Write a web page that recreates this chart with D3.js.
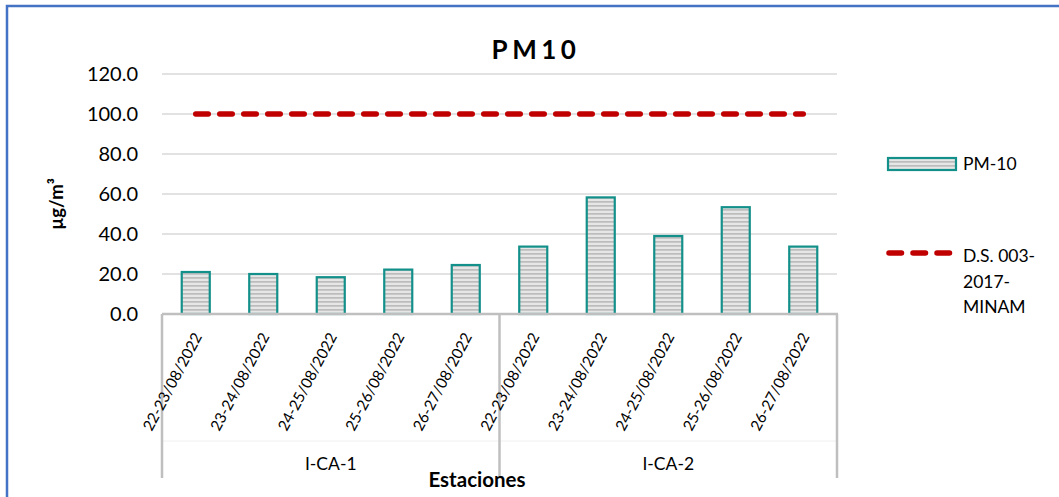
<!DOCTYPE html>
<html>
<head>
<meta charset="utf-8">
<script src="https://cdn.jsdelivr.net/npm/d3@7"></script>
<style>
  html, body { margin: 0; padding: 0; background: #fff; }
  svg { display: block; font-family: Lato, "Open Sans", sans-serif; }
</style>
</head>
<body>
<svg id="chart" width="1059" height="497"></svg>
<script>
// Stations (outer category level) and sampling periods (inner level)
const stations = ["I-CA-1", "I-CA-2"];
const periods = ["22-23/08/2022", "23-24/08/2022", "24-25/08/2022", "25-26/08/2022", "26-27/08/2022"];
// PM10 concentration per station/period, µg/m³
const pm10 = [21.0, 20.0, 18.4, 22.2, 24.5, 33.7, 58.3, 39.0, 53.4, 33.7];
// Air quality standard D.S. 003-2017-MINAM, µg/m³
const standardValue = 100;
const yTicks = [0, 20, 40, 60, 80, 100, 120];
const seriesName = "PM-10";
const standardLabel = ["D.S. 003-", "2017-", "MINAM"];

const categories = [];
stations.forEach(s => periods.forEach(p => categories.push({ station: s, period: p })));
const rows = categories.map((c, i) => ({ ...c, key: c.station + "|" + c.period, value: pm10[i] }));

const svg = d3.select("#chart");

const plot = { left: 162, right: 837, top: 74, bottom: 314 };

const x = d3.scaleBand().domain(rows.map(d => d.key)).range([plot.left, plot.right]);
const xBar = d3.scaleBand().domain(rows.map(d => d.key)).range([plot.left, plot.right])
  .paddingInner(0.585).paddingOuter(0.2925);
const y = d3.scaleLinear().domain([0, 120]).range([plot.bottom, plot.top]);

// Striped fill for the bars
const defs = svg.append("defs");
const pat = defs.append("pattern").attr("id", "stripes")
  .attr("patternUnits", "userSpaceOnUse").attr("width", 8).attr("height", 4);
pat.append("rect").attr("width", 8).attr("height", 4).attr("fill", "#e6e6e6");
pat.append("rect").attr("width", 8).attr("height", 1.7).attr("y", 1).attr("fill", "#bcbcbc");

// Outer frame
svg.append("rect").attr("x", 7).attr("y", 6).attr("width", 1100).attr("height", 600)
  .attr("fill", "none").attr("stroke", "#4472C4").attr("stroke-width", 2.5);

// Title
svg.append("text").attr("x", 536).attr("y", 59).attr("text-anchor", "middle")
  .attr("font-size", 26).attr("font-weight", 700).attr("letter-spacing", 4.5)
  .attr("fill", "#000").text("PM10");

// Gridlines
svg.append("g").selectAll("line").data(yTicks.filter(t => t > 0)).join("line")
  .attr("x1", plot.left).attr("x2", plot.right)
  .attr("y1", d => y(d)).attr("y2", d => y(d))
  .attr("stroke", "#d9d9d9").attr("stroke-width", 1.5);

// Y axis tick labels
const yAxis = d3.axisLeft(y).tickValues(yTicks).tickFormat(d3.format(".1f")).tickSize(0).tickPadding(0);
const gy = svg.append("g").attr("transform", `translate(${plot.left - 24},0)`).call(yAxis);
gy.select(".domain").remove();
gy.selectAll("text").attr("font-size", 20).attr("fill", "#000").attr("font-family", "Lato, sans-serif");

// Y axis title
svg.append("text").attr("transform", `translate(63,${(plot.top + plot.bottom) / 2 + 10}) rotate(-90)`)
  .attr("text-anchor", "middle").attr("font-size", 18.5).attr("font-weight", 700).text("µg/m³");

// Bars
svg.append("g").selectAll("rect").data(rows).join("rect")
  .attr("x", d => xBar(d.key)).attr("width", xBar.bandwidth())
  .attr("y", d => y(d.value)).attr("height", d => y(0) - y(d.value))
  .attr("fill", "url(#stripes)").attr("stroke", "#13908a").attr("stroke-width", 2.2);

// Standard line
const line = d3.line().x(d => x(d.key) + x.bandwidth() / 2).y(() => y(standardValue));
svg.append("path").datum(rows).attr("d", line)
  .attr("fill", "none").attr("stroke", "#C00000").attr("stroke-width", 5.5)
  .attr("stroke-linecap", "round").attr("stroke-dasharray", "12.5 11.5");

// Category axis: baseline and group separators
const axisColor = "#bfbfbf";
const axisBottom = 478;
svg.append("line").attr("x1", plot.left).attr("x2", plot.right + 1).attr("y1", y(0)).attr("y2", y(0))
  .attr("stroke", axisColor).attr("stroke-width", 2.5);
svg.append("line").attr("x1", plot.left).attr("x2", plot.right).attr("y1", 441).attr("y2", 441)
  .attr("stroke", "#f0f0f0").attr("stroke-width", 1);
const groupEdges = stations.map(s => {
  const keys = rows.filter(r => r.station === s).map(r => r.key);
  return { station: s, x0: x(keys[0]), x1: x(keys[keys.length - 1]) + x.bandwidth() };
});
const sepX = [groupEdges[0].x0, ...groupEdges.map(g => g.x1)];
svg.append("g").selectAll("line").data(sepX).join("line")
  .attr("x1", d => d).attr("x2", d => d).attr("y1", y(0)).attr("y2", axisBottom)
  .attr("stroke", axisColor).attr("stroke-width", 2.5);

// Period labels (rotated)
svg.append("g").selectAll("text").data(rows).join("text")
  .attr("transform", d => `translate(${x(d.key) + x.bandwidth() / 2 + 2},${y(0) + 20}) rotate(-62)`)
  .attr("text-anchor", "end").attr("dy", "0.35em")
  .attr("font-size", 15.3).attr("fill", "#000").text(d => d.period);

// Station labels
svg.append("g").selectAll("text").data(groupEdges).join("text")
  .attr("x", d => (d.x0 + d.x1) / 2).attr("y", 470).attr("text-anchor", "middle")
  .attr("font-size", 17.5).attr("fill", "#000").text(d => d.station);

// X axis title
svg.append("text").attr("x", 477).attr("y", 487).attr("text-anchor", "middle")
  .attr("font-size", 20.5).attr("font-weight", 700).text("Estaciones");

// Legend
const lg = svg.append("g");
lg.append("rect").attr("x", 888).attr("y", 158).attr("width", 68).attr("height", 12)
  .attr("fill", "url(#stripes)").attr("stroke", "#13908a").attr("stroke-width", 2.2);
lg.append("text").attr("x", 963).attr("y", 170).attr("font-size", 17.5).text(seriesName);
lg.append("line").attr("x1", 889).attr("x2", 951).attr("y1", 253).attr("y2", 253)
  .attr("stroke", "#C00000").attr("stroke-width", 5.5).attr("stroke-linecap", "round")
  .attr("stroke-dasharray", "12.5 11.5");
lg.append("text").attr("x", 963).attr("y", 262).attr("font-size", 17.5)
  .selectAll("tspan").data(standardLabel).join("tspan")
  .attr("x", 963).attr("dy", (d, i) => i === 0 ? 0 : 25.5).text(d => d);
</script>
</body>
</html>
